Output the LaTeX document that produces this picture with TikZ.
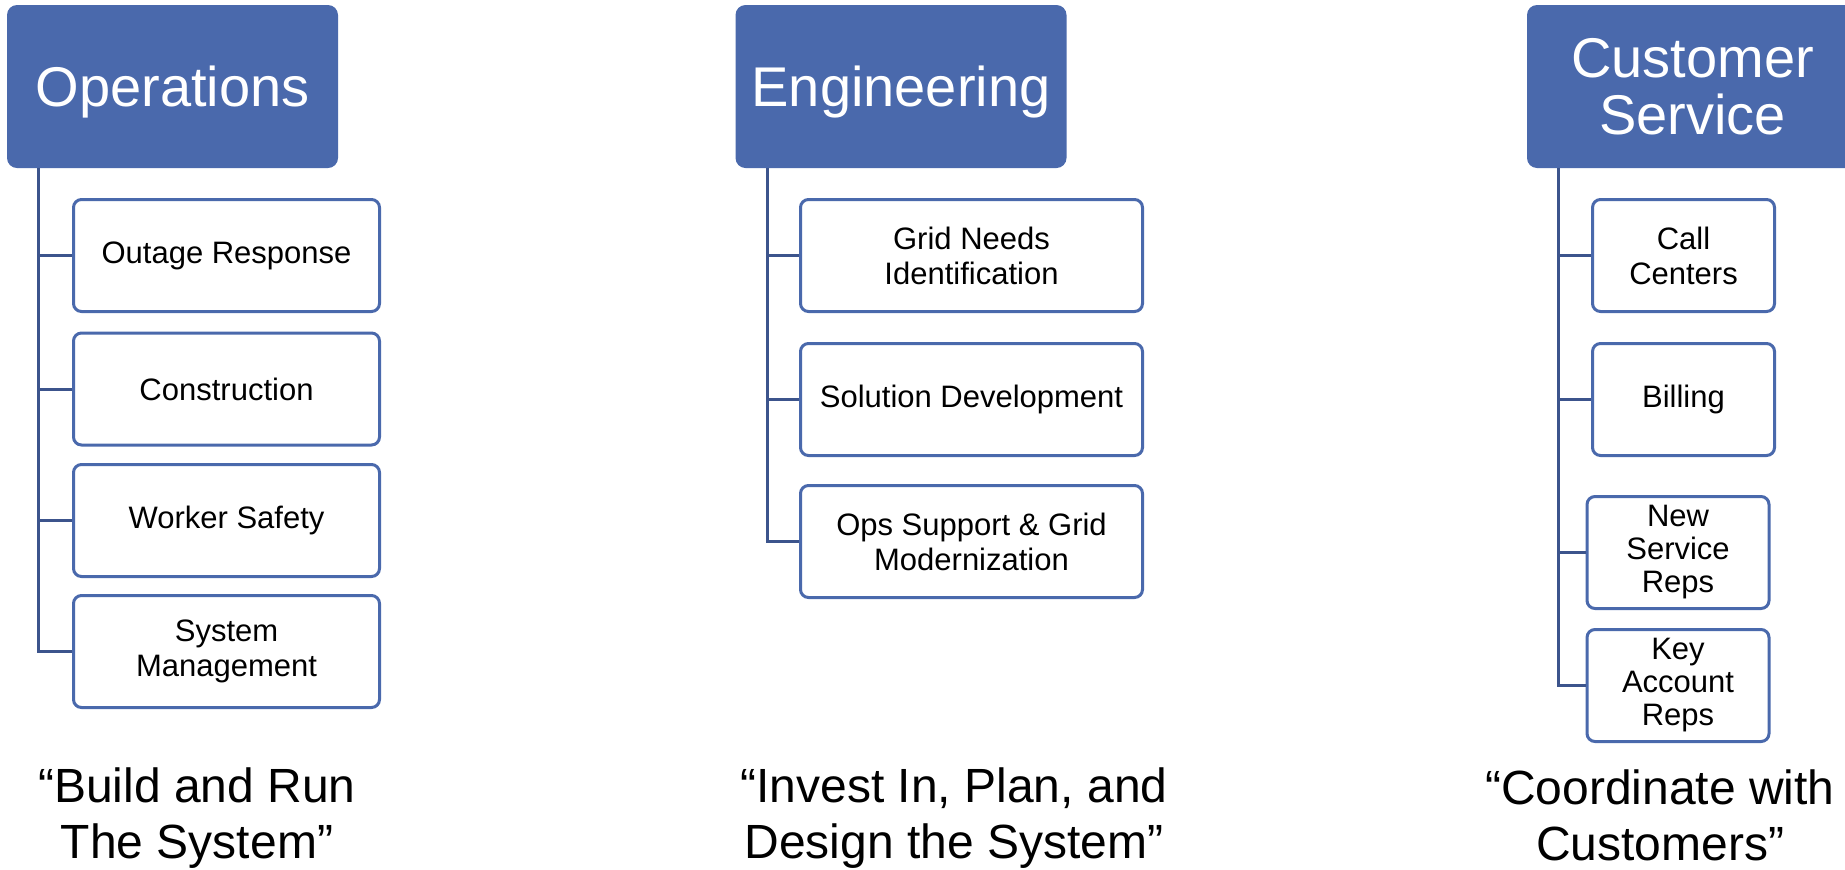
\documentclass[tikz,border=0pt]{standalone}
\usepackage{fontspec}
\setmainfont{Liberation Sans}
\usepackage{tikz}
\usetikzlibrary{positioning}
\definecolor{hdrblue}{RGB}{74,105,172}
\definecolor{linkblue}{RGB}{60,84,140}

\begin{document}
\begin{tikzpicture}[x=0.5pt,y=-0.5pt,
  header/.style={fill=hdrblue,rounded corners=5pt,minimum width=165.5pt,minimum height=81.5pt,
    inner sep=0pt,text=white,align=center,font=\fontsize{28}{28.5}\selectfont,text depth=0pt},
  unit/.style={draw=hdrblue,line width=1.5pt,fill=white,rounded corners=4pt,minimum height=56pt,
    inner sep=0pt,align=center,font=\fontsize{15.5}{17.5}\selectfont},
  motto/.style={anchor=north,inner sep=0pt,align=center,font=\fontsize{24}{28}\selectfont},
  trunk/.style={draw=linkblue,line width=1.5pt}]

\useasboundingbox (0,0) rectangle (1845,869);
\clip (0,0) rectangle (1845,869);

\node[header] (ops) at (172.5,86.5){Operations};
\node[header] (eng) at (901,86.5){Engineering};
\node[header] (cust) at (1692.5,86.5){Customer\\Service};

\node[unit,minimum width=153pt] (o1) at (226.5,255.5){Outage Response};
\node[unit,minimum width=153pt] (o2) at (226.5,389){Construction};
\node[unit,minimum width=153pt] (o3) at (226.5,520.5){Worker Safety};
\node[unit,minimum width=153pt] (o4) at (226.5,651.5){System\\Management};

\node[unit,minimum width=171pt] (e1) at (971.5,255.5){Grid Needs\\Identification};
\node[unit,minimum width=171pt] (e2) at (971.5,399.5){Solution Development};
\node[unit,minimum width=171pt] (e3) at (971.5,541.5){Ops Support \& Grid\\Modernization};

\node[unit,minimum width=91pt] (c1) at (1683.5,255.5){Call\\Centers};
\node[unit,minimum width=91pt] (c2) at (1683.5,399.5){Billing};
\node[unit,minimum width=91pt,font=\fontsize{15.5}{16.5}\selectfont] (c3) at (1678,552.5){New\\Service\\Reps};
\node[unit,minimum width=91pt,font=\fontsize{15.5}{16.5}\selectfont] (c4) at (1678,685.5){Key\\Account\\Reps};

\node[motto] (q1) at (197,767){“Build and Run\\The System”};
\node[motto] (q2) at (954,767){“Invest In, Plan, and\\Design the System”};
\node[motto] (q3) at (1660,769){“Coordinate with\\Customers”};

\draw[trunk] ([xshift=16pt]ops.south west) |- (o1.west);
\draw[trunk] ([xshift=16pt]ops.south west) |- (o2.west);
\draw[trunk] ([xshift=16pt]ops.south west) |- (o3.west);
\draw[trunk] ([xshift=16pt]ops.south west) |- (o4.west);
\draw[trunk] ([xshift=16pt]eng.south west) |- (e1.west);
\draw[trunk] ([xshift=16pt]eng.south west) |- (e2.west);
\draw[trunk] ([xshift=16pt]eng.south west) |- (e3.west);
\draw[trunk] ([xshift=16pt]cust.south west) |- (c1.west);
\draw[trunk] ([xshift=16pt]cust.south west) |- (c2.west);
\draw[trunk] ([xshift=16pt]cust.south west) |- (c3.west);
\draw[trunk] ([xshift=16pt]cust.south west) |- (c4.west);

\end{tikzpicture}
\end{document}
